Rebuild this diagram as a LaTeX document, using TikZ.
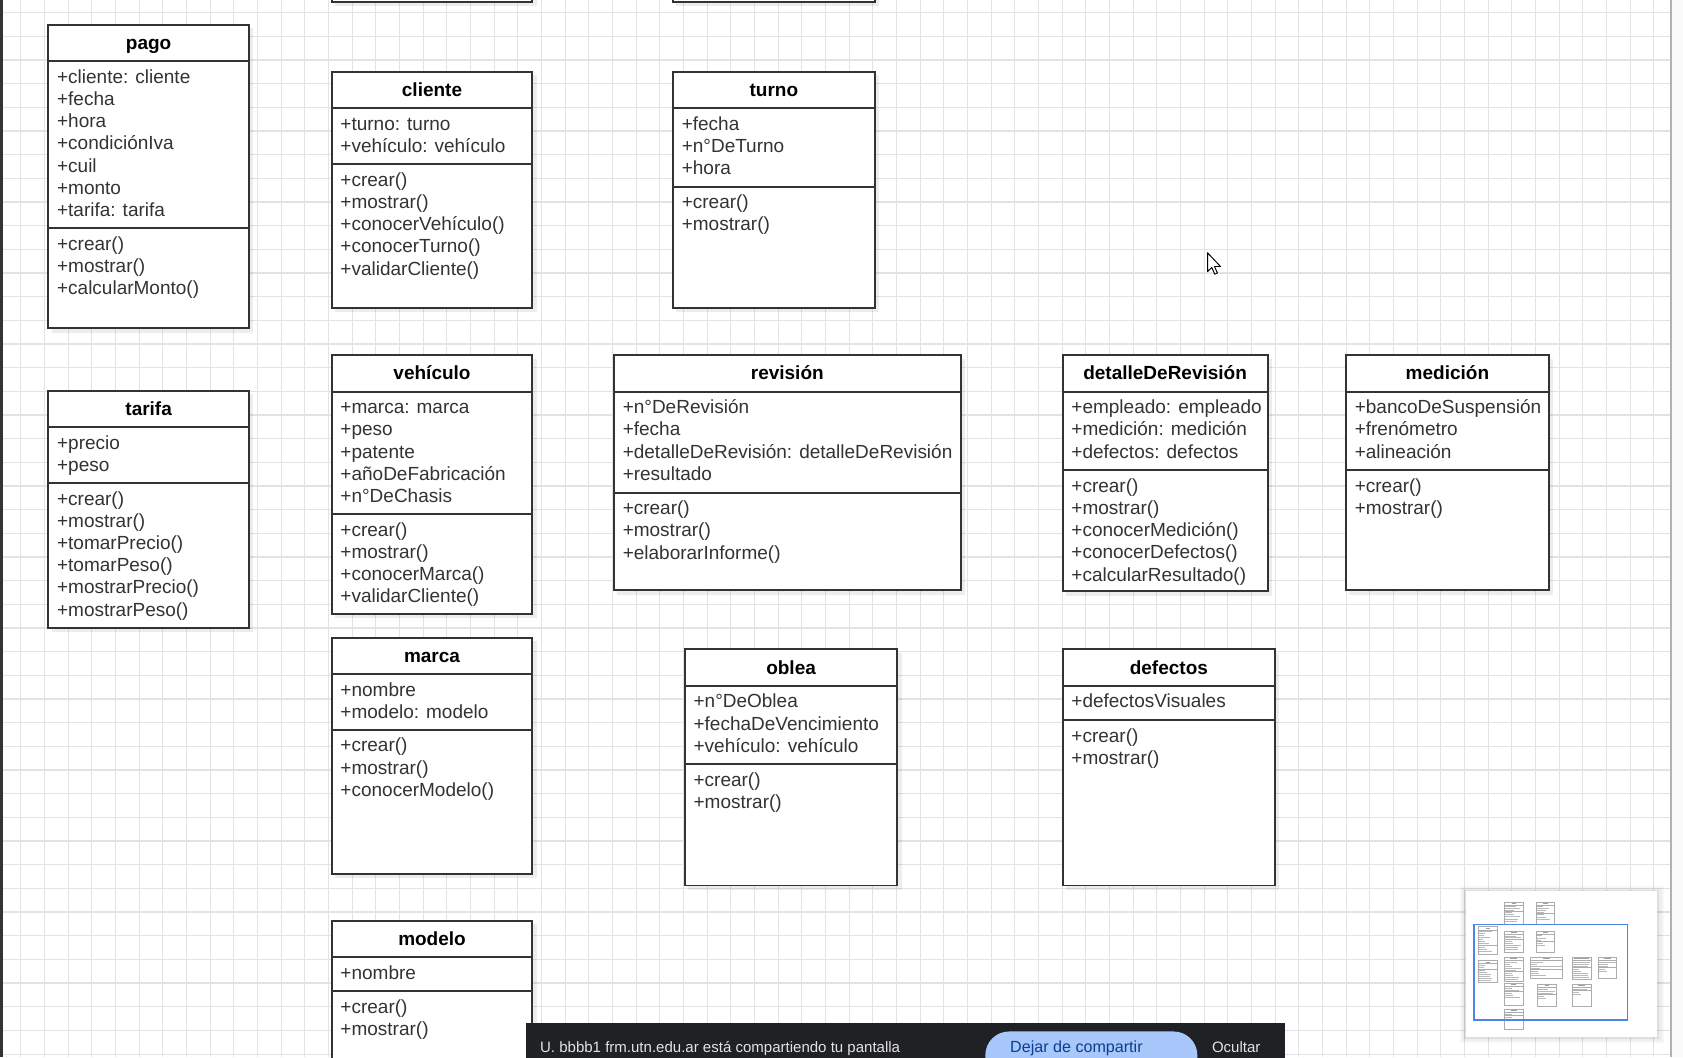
\documentclass[tikz,border=0pt]{standalone}
\usepackage{fontspec}
\setmainfont{Liberation Sans}
\definecolor{linec}{HTML}{333333}
\definecolor{textc}{HTML}{333333}
\definecolor{gridc}{HTML}{E3E3E6}
\definecolor{barc}{HTML}{202124}
\definecolor{pillc}{HTML}{A8C7FA}
\definecolor{pilltextc}{HTML}{0B3D91}
\definecolor{bartextc}{HTML}{E3E3E3}
\definecolor{vpc}{HTML}{4A86E8}
\newcommand\titlefont{\bfseries\fontsize{17.7}{20.7}\selectfont}
\newcommand\attrfont{\fontsize{17.7}{20.7}\selectfont}
\tikzset{
  clsbox/.style={rectangle, draw=linec, line width=1.8pt, fill=white, inner sep=0pt, outer sep=0pt},
  clsline/.style={draw=linec, line width=1.8pt},
  titletext/.style={font=\titlefont, text=black, inner sep=0pt},
  attrtext/.style={font=\attrfont, text=textc, inner sep=0pt},
  boxshadow/.style={fill=black, fill opacity=0.07},
  gridline/.style={draw=gridc, line width=1pt},
  minibox/.style={draw=gray!65, line width=0.5pt, fill=white},
  minisep/.style={draw=gray!65, line width=0.5pt},
  minititle/.style={draw=gray!75, line width=0.8pt},
  minirow/.style={draw=gray!55, line width=0.6pt},
  ghost/.style={transform shape, inner sep=0pt, outer sep=0pt},
  bartext/.style={font=\fontsize{14}{17}\selectfont, text=bartextc, inner sep=0pt},
  pilltext/.style={font=\fontsize{15}{18}\selectfont, text=pilltextc, inner sep=0pt},
}
% #1 id, #2 left, #3 top, #4 right, #5 bottom, #6 attribute separator, #7 title, #8 attributes, #9 methods
\newcommand\fullumlc[9]{%
  \fill[boxshadow] ({#2+3},{#3+3}) rectangle ({#4+4},{#5+4});
  \node[clsbox, anchor=north west, minimum width={#4-#2}, minimum height={#5-#3}] (#1) at (#2,#3) {};
  \draw[clsline] (#2,{#3+34}) -- (#4,{#3+34});
  \draw[clsline] (#2,#6) -- (#4,#6);
  \node[titletext, anchor=base] (#1-title) at ({(#2+#4)/2},{#3+23}) {#7};
  \foreach \itemtxt [count=\rowi from 0] in {#8}{%
    \node[attrtext, anchor=base west] (#1-a\rowi) at ({#2+8},{#3+34+20.5+20.7*\rowi}) {\itemtxt};}
  \foreach \itemtxt [count=\rowi from 0] in {#9}{%
    \node[attrtext, anchor=base west] (#1-m\rowi) at ({#2+8},{#6+20.5+20.7*\rowi}) {\itemtxt};}
}
% minimap version: text rows shown as grey strokes of the text's width
\newcommand\miniumlc[9]{%
  \filldraw[minibox] (#2,#3) rectangle (#4,#5);
  \draw[minisep] (#2,{#3+34}) -- (#4,{#3+34});
  \draw[minisep] (#2,#6) -- (#4,#6);
  \node[ghost, font=\titlefont, anchor=base] (#1-mini-t) at ({(#2+#4)/2},{#3+23}) {\phantom{#7}};
  \draw[minititle] (#1-mini-t.west) -- (#1-mini-t.east);
  \foreach \itemtxt [count=\rowi from 0] in {#8}{%
    \node[ghost, font=\attrfont, anchor=base west] (#1-mini-a\rowi) at ({#2+8},{#3+34+20.5+20.7*\rowi}) {\phantom{\itemtxt}};
    \draw[minirow] (#1-mini-a\rowi.west) -- (#1-mini-a\rowi.east);}
  \foreach \itemtxt [count=\rowi from 0] in {#9}{%
    \node[ghost, font=\attrfont, anchor=base west] (#1-mini-m\rowi) at ({#2+8},{#6+20.5+20.7*\rowi}) {\phantom{\itemtxt}};
    \draw[minirow] (#1-mini-m\rowi.west) -- (#1-mini-m\rowi.east);}
}
\newcommand\allclasses{%
  \umlc{pago}{45}{23}{232}{306}{212.5}{pago}{+cliente: cliente,+fecha,+hora,+condiciónIva,+cuil,+monto,+tarifa: tarifa}{+crear(),+mostrar(),+calcularMonto()}%
  \umlc{cliente}{309}{67}{496}{287}{153}{cliente}{+turno: turno,+vehículo: vehículo}{+crear(),+mostrar(),+conocerVehículo(),+conocerTurno(),+validarCliente()}%
  \umlc{turno}{627}{67}{815}{287}{174}{turno}{+fecha,+n°DeTurno,+hora}{+crear(),+mostrar()}%
  \umlc{tarifa}{45}{364}{232}{585}{450}{tarifa}{+precio,+peso}{+crear(),+mostrar(),+tomarPrecio(),+tomarPeso(),+mostrarPrecio(),+mostrarPeso()}%
  \umlc{vehiculo}{309}{331}{496}{572}{479}{vehículo}{+marca: marca,+peso,+patente,+añoDeFabricación,+n°DeChasis}{+crear(),+mostrar(),+conocerMarca(),+validarCliente()}%
  \umlc{revision}{572}{331}{895}{550}{459}{revisión}{+n°DeRevisión,+fecha,+detalleDeRevisión: detalleDeRevisión,+resultado}{+crear(),+mostrar(),+elaborarInforme()}%
  \umlc{detalle}{990}{331}{1181}{551}{438}{detalleDeRevisión}{+empleado: empleado,+medición: medición,+defectos: defectos}{+crear(),+mostrar(),+conocerMedición(),+conocerDefectos(),+calcularResultado()}%
  \umlc{medicion}{1254}{331}{1443}{550}{438}{medición}{+bancoDeSuspensión,+frenómetro,+alineación}{+crear(),+mostrar()}%
  \umlc{marca}{309}{594}{496}{814}{680}{marca}{+nombre,+modelo: modelo}{+crear(),+mostrar(),+conocerModelo()}%
  \umlc{oblea}{638}{605}{836}{825}{712}{oblea}{+n°DeOblea,+fechaDeVencimiento,+vehículo: vehículo}{+crear(),+mostrar()}%
  \umlc{defectos}{990}{605}{1188}{825}{671}{defectos}{+defectosVisuales}{+crear(),+mostrar()}%
  \umlc{modelo}{309}{858}{496}{1066}{923.5}{modelo}{+nombre}{+crear(),+mostrar()}%
}
\begin{document}
\begin{tikzpicture}[x=1pt,y=-1pt]
  \path[use as bounding box] (0,0) rectangle (1568,985);
  \clip (0,0) rectangle (1568,985);
  % canvas and grid
  \fill[white] (0,0) rectangle (1568,985);
  \foreach \gx in {0,...,71}{\draw[gridline] ({19.3+22.05*\gx},0) -- ++(0,985);}
  \foreach \gy in {0,...,44}{\draw[gridline] (0,{11.8+22.05*\gy}) -- ++(1568,0);}
  % classes partly above the view
  \fill[boxshadow] (312,-250) rectangle (500,5.5);
  \fill[boxshadow] (630,-250) rectangle (819,5.5);
  \draw[clsline, fill=white] (309,-250) rectangle (496,1.5);
  \draw[clsline, fill=white] (627,-250) rectangle (815,1.5);
  % classes
  \let\umlc\fullumlc
  \allclasses
  % frame edges
  \draw[gray!40!black, line width=2.5pt] (1.2,0) -- (1.2,985);
  \fill[white!96!gray] (1557,0) rectangle (1568,985);
  \draw[gray!60, line width=1.5pt] (1557,0) -- (1557,985);
  % mouse pointer
  \draw[fill=white, draw=black, line width=0.9pt, line join=round]
    (1125,235.5) -- ++(0,17.5) -- ++(4,-3.8) -- ++(2.7,6.2) -- ++(2.5,-1.1) -- ++(-2.7,-6) -- ++(5.6,0) -- cycle;
  % minimap
  \foreach \s/\o in {6/0.03,4/0.04,2/0.06}{\fill[black, fill opacity=\o] ({1366-\s},{830-\s+1}) rectangle ({1544+\s},{966+\s});}
  \fill[white] (1366,830) rectangle (1544,966);
  \begin{scope}[shift={(1373.3,861.2)}, scale=0.0921]
    \filldraw[minibox] (309,-228) rectangle (496,1.5);
    \draw[minisep] (309,-194) -- (496,-194);
    \draw[minisep] (309,-132) -- (496,-132);
    \draw[minititle] (380,-211) -- (425,-211);
    \foreach \w [count=\r from 0] in {110,150,90}{\draw[minirow] (317,{-180+20.7*\r}) -- ++(\w,0);}
    \foreach \w [count=\r from 0] in {70,90,150,130,120}{\draw[minirow] (317,{-118+20.7*\r}) -- ++(\w,0);}
    \filldraw[minibox] (627,-228) rectangle (815,1.5);
    \draw[minisep] (627,-194) -- (815,-194);
    \draw[minisep] (627,-111) -- (815,-111);
    \draw[minititle] (695,-211) -- (747,-211);
    \foreach \w [count=\r from 0] in {60,120,90,70}{\draw[minirow] (635,{-180+20.7*\r}) -- ++(\w,0);}
    \foreach \w [count=\r from 0] in {70,90,130}{\draw[minirow] (635,{-97+20.7*\r}) -- ++(\w,0);}
    \let\umlc\miniumlc
    \allclasses
  \end{scope}
  \draw[vpc, line width=1.2pt] (1373.3,861.2) rectangle (1516.5,950.3);
  % screen-sharing bar
  \fill[barc] (490.5,953) rectangle (1197,1000);
  \fill[pillc, rounded corners=22pt] (918,961) rectangle (1115.5,1012);
  \node[bartext, anchor=base west] (sharemsg) at (503,980.5) {U. bbbb1 frm.utn.edu.ar está compartiendo tu pantalla};
  \node[pilltext, anchor=base west] (stopshare) at (941,980.5) {Dejar de compartir};
  \node[bartext, anchor=base west] (hidebar) at (1129,980.5) {Ocultar};
\end{tikzpicture}
\end{document}
